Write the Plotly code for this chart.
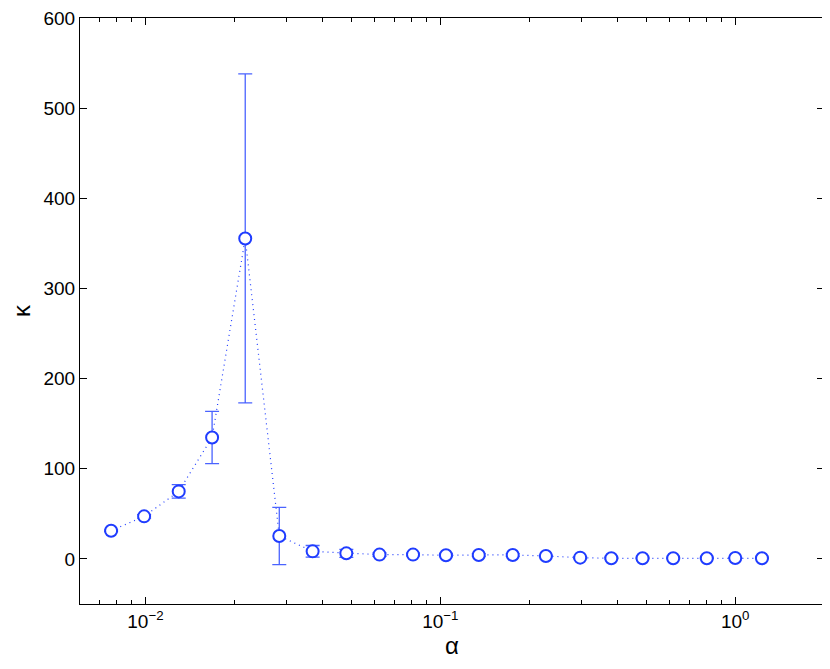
import plotly.graph_objects as go

alpha = [0.00765, 0.0099, 0.01297, 0.01683, 0.0218, 0.02844, 0.0369, 0.0480, 0.0622,
         0.0808, 0.1045, 0.135, 0.176, 0.228, 0.298, 0.380, 0.485, 0.616, 0.801, 1.0, 1.232]
kappa = [31.3, 47.2, 74.9, 134.7, 355.5, 25.4, 8.4, 6.2, 4.8, 4.8, 4.0, 4.4, 4.4, 3.3,
         1.4, 0.7, 0.7, 0.7, 0.7, 1.1, 0.7]
kappa_err = [1.0, 2.0, 7.5, 29.0, 182.5, 31.7, 6.5, 4.5, 2.0, 1.5, 1.5, 1.5, 1.5, 1.0,
             1.0, 1.0, 0.5, 0.5, 0.5, 0.5, 0.5]

x_tickvals = [0.01, 0.1, 1]
x_ticktext = ["10<sup>\u22122</sup>", "10<sup>\u22121</sup>", "10<sup>0</sup>"]
y_tickvals = [0, 100, 200, 300, 400, 500, 600]

blue = "#1f3cff"

fig = go.Figure()
fig.add_trace(go.Scatter(
    x=alpha, y=kappa, mode="lines",
    line=dict(color=blue, width=1.2, dash="1px,4px"),
    hoverinfo="skip", showlegend=False))
fig.add_trace(go.Scatter(
    x=alpha, y=kappa, mode="markers",
    error_y=dict(type="data", array=kappa_err, visible=True, color="#4a63ff",
                 thickness=1.3, width=7),
    marker=dict(symbol="circle", size=12, color="white",
                line=dict(color=blue, width=2)),
    showlegend=False))

axis_font = dict(family="Liberation Sans, Arial, Helvetica, sans-serif", size=19, color="black")

fig.update_layout(
    width=822, height=661,
    margin=dict(l=72, r=6, t=10, b=65),
    paper_bgcolor="white", plot_bgcolor="white",
    font=axis_font,
    xaxis=dict(
        type="log", range=[-2.2218, 0.3010], automargin=False,
        tickvals=x_tickvals, ticktext=x_ticktext,
        ticks="inside", ticklen=7, tickcolor="black", tickwidth=1,
        minor=dict(ticks="inside", ticklen=4, dtick="D1", tickcolor="black", showgrid=False),
        showline=True, linecolor="black", linewidth=1, mirror="ticks",
        showgrid=False, zeroline=False,
        tickfont=axis_font, ticklabeloverflow="allow",
        title=dict(text="\u03b1", font=dict(family="Liberation Sans, Arial", size=24, color="black"),
                   standoff=4),
    ),
    yaxis=dict(
        range=[-50, 600], automargin=False,
        tickvals=y_tickvals,
        ticks="inside", ticklen=7, tickcolor="black", tickwidth=1,
        showline=True, linecolor="black", linewidth=1, mirror="ticks",
        showgrid=False, zeroline=False,
        tickfont=axis_font, ticklabeloverflow="allow",
        title=dict(text="\u03ba", font=dict(family="Liberation Sans, Arial", size=24, color="black"),
                   standoff=12),
    ),
)

fig.write_html("out.html")
